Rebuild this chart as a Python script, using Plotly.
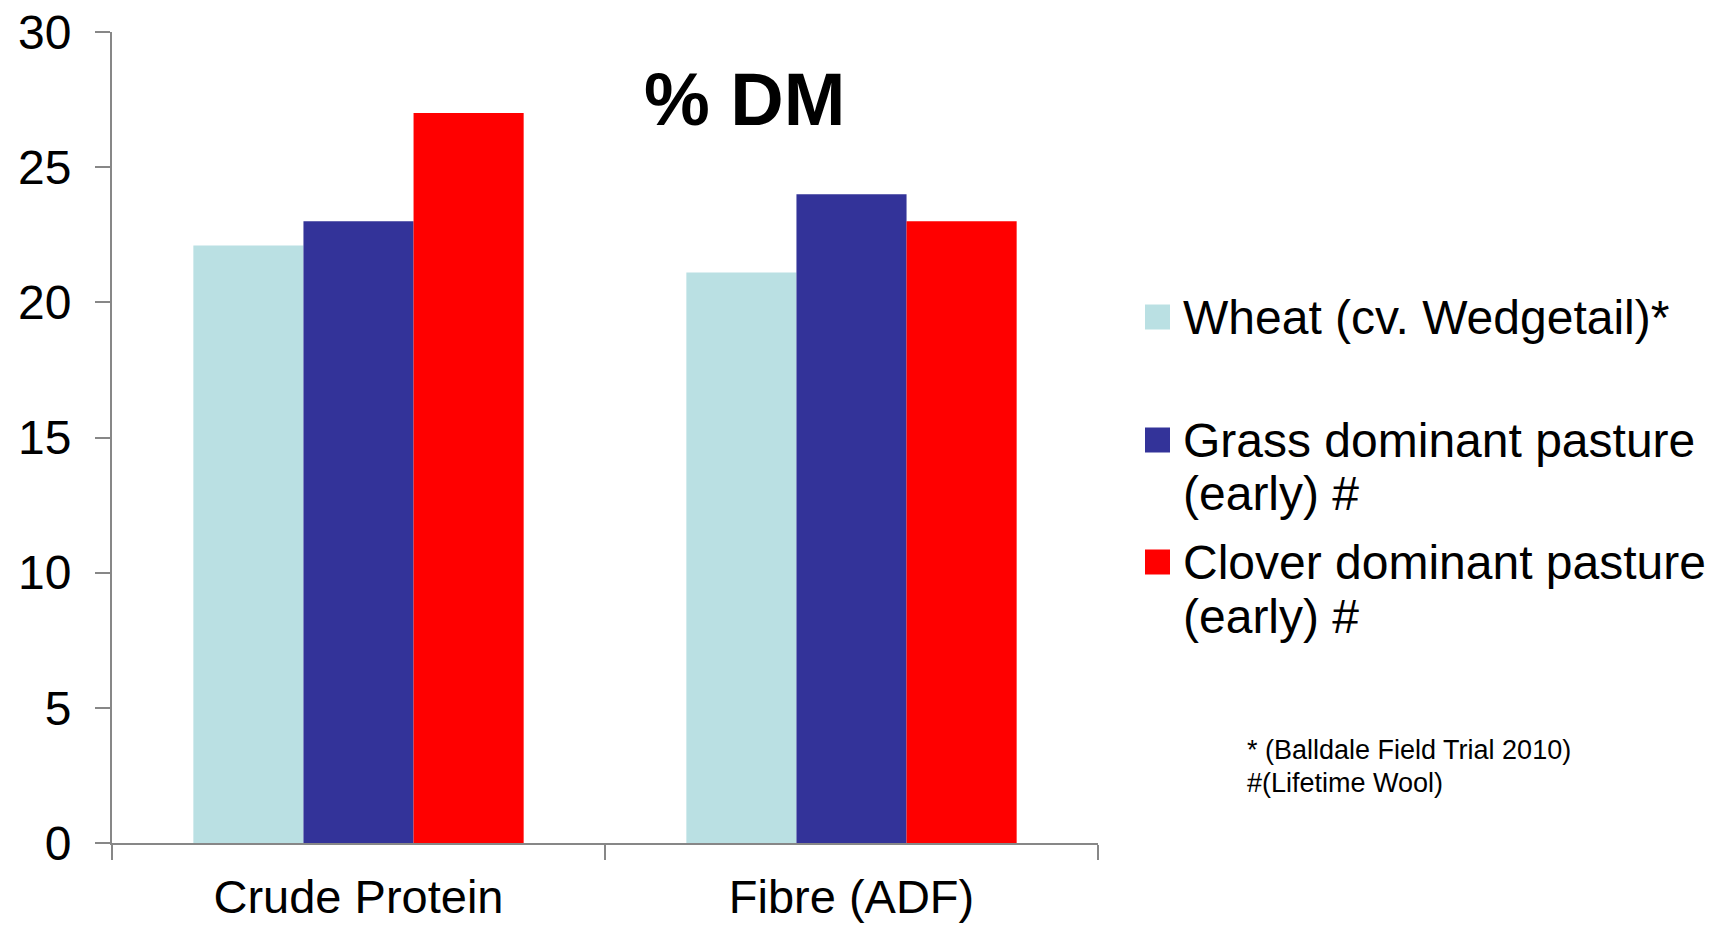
import plotly.graph_objects as go

# Nutritive value, % of dry matter
categories = ["Crude Protein", "Fibre (ADF)"]
series_names = [
    "Wheat (cv. Wedgetail)*",
    "Grass dominant pasture<br>(early) #",
    "Clover dominant pasture<br>(early) #",
]
wheat = [22.1, 21.1]
grass = [23.0, 24.0]
clover = [27.0, 23.0]
series_colors = ["#BAE0E3", "#333399", "#FF0000"]
y_ticks = [0, 5, 10, 15, 20, 25, 30]
footnotes = ["* (Balldale Field Trial 2010)", "#(Lifetime Wool)"]

FONT = "Liberation Sans, Arial, sans-serif"
AXIS_GREY = "#878787"

# figure geometry (pixels)
W, H = 1715, 925
L, R, T, B = 112, 617, 32, 82
PW, PH = W - L - R, H - T - B


def xp(px):
    return (px - L) / PW


def yp(py):
    return (H - B - py) / PH


fig = go.Figure()
for name, vals, col in zip(series_names, [wheat, grass, clover], series_colors):
    fig.add_trace(go.Bar(x=categories, y=vals, name=name,
                         marker=dict(color=col, line=dict(width=0)),
                         showlegend=False))

fig.update_layout(
    width=W, height=H,
    margin=dict(l=L, r=R, t=T, b=B),
    paper_bgcolor="white", plot_bgcolor="white",
    barmode="group", bargap=0.33, bargroupgap=0,
    font=dict(family=FONT, color="black"),
    xaxis=dict(
        automargin=False,
        showline=True, linecolor=AXIS_GREY, linewidth=2,
        ticks="outside", tickson="boundaries", ticklen=15,
        tickcolor=AXIS_GREY, tickwidth=2,
        tickfont=dict(size=47, color="black"),
        ticklabelstandoff=12,
        showgrid=False, zeroline=False,
    ),
    yaxis=dict(
        automargin=False,
        range=[0, 30], tickvals=y_ticks,
        showline=True, linecolor=AXIS_GREY, linewidth=2,
        ticks="outside", ticklen=15, tickcolor=AXIS_GREY, tickwidth=2,
        tickfont=dict(size=48, color="black"),
        ticklabelstandoff=14,
        showgrid=False, zeroline=False,
    ),
)

annotations = [
    dict(text="<b>% DM</b>", x=xp(744), y=yp(99), xref="paper", yref="paper",
         showarrow=False, xanchor="center", yanchor="middle",
         font=dict(size=74, family=FONT, color="black")),
]
shapes = []

# legend: coloured squares with labels, one text row per line
entry_tops = [317, 440, 562]
line_step = 54
for name, col, yc in zip(series_names, series_colors, entry_tops):
    shapes.append(dict(type="rect", xref="paper", yref="paper",
                       x0=xp(1145), x1=xp(1170), y0=yp(yc + 12.5), y1=yp(yc - 12.5),
                       fillcolor=col, line=dict(width=0)))
    for i, line in enumerate(name.split("<br>")):
        annotations.append(dict(text=line, x=xp(1181), y=yp(yc + i * line_step),
                                xref="paper", yref="paper", showarrow=False,
                                xanchor="left", yanchor="middle",
                                font=dict(size=48, family=FONT, color="black")))

for i, note in enumerate(footnotes):
    annotations.append(dict(text=note, x=xp(1245), y=yp(750 + i * 33),
                            xref="paper", yref="paper", showarrow=False,
                            xanchor="left", yanchor="middle",
                            font=dict(size=27, family=FONT, color="black")))

fig.update_layout(annotations=annotations, shapes=shapes)
fig.write_html("out.html")
